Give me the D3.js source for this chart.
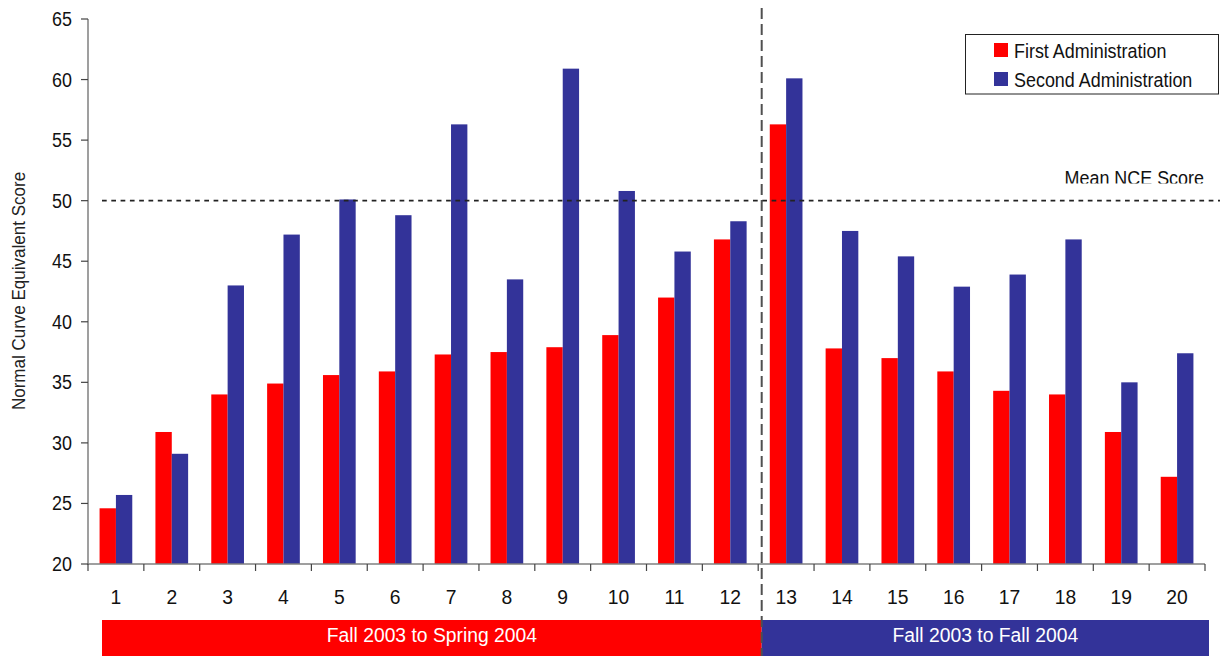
<!DOCTYPE html>
<html>
<head>
<meta charset="utf-8">
<script src="https://cdn.jsdelivr.net/npm/d3@7/dist/d3.min.js"></script>
<style>
  html, body { margin: 0; padding: 0; background: #fff; }
  svg { display: block; }
  text { font-family: "Liberation Sans", Arial, sans-serif; fill: #111; }
</style>
</head>
<body>
<svg id="chart" width="1220" height="656"></svg>
<script>
// Schools (1-20) and their NCE scores on the two test administrations
const categories = ["1","2","3","4","5","6","7","8","9","10","11","12","13","14","15","16","17","18","19","20"];
const firstAdmin  = [24.6, 30.9, 34.0, 34.9, 35.6, 35.9, 37.3, 37.5, 37.9, 38.9, 42.0, 46.8, 56.3, 37.8, 37.0, 35.9, 34.3, 34.0, 30.9, 27.2];
const secondAdmin = [25.7, 29.1, 43.0, 47.2, 50.1, 48.8, 56.3, 43.5, 60.9, 50.8, 45.8, 48.3, 60.1, 47.5, 45.4, 42.9, 43.9, 46.8, 35.0, 37.4];
const seriesNames = ["First Administration", "Second Administration"];
const seriesColors = ["#FF0000", "#333399"];
const yTicks = [20, 25, 30, 35, 40, 45, 50, 55, 60, 65];
const meanScore = 50;
const meanLabel = "Mean NCE Score";
const yTitle = "Normal Curve Equivalent Score";
// Testing-period groups spanning the category axis
const periods = [
  { label: "Fall 2003 to Spring 2004", from: "1",  to: "12", color: "#FF0000" },
  { label: "Fall 2003 to Fall 2004",   from: "13", to: "20", color: "#333399" }
];

const svg = d3.select("#chart");
const SX = 0.92; // horizontal squeeze for the condensed label face

function squeezedText(sel, x, y, str, size, anchor, rot) {
  return sel.append("text")
    .attr("transform", `translate(${x},${y})${rot ? ` rotate(${rot})` : ""} scale(${SX},1)`)
    .attr("text-anchor", anchor || "start")
    .style("font-size", size + "px")
    .text(str);
}

const x = d3.scaleBand().domain(categories).range([88, 1205]).padding(0);
const xSub = d3.scaleBand().domain([0, 1]).range([0, x.bandwidth()]).paddingInner(0).paddingOuter(0.708);
const y = d3.scaleLinear().domain([20, 65]).range([564, 19]);

// Bars
const rows = categories.map((c, i) => ({ c, vals: [firstAdmin[i], secondAdmin[i]] }));
const groups = svg.append("g").selectAll("g").data(rows).join("g")
  .attr("transform", d => `translate(${x(d.c)},0)`);
groups.selectAll("rect").data(d => d.vals.map((v, k) => ({ v, k }))).join("rect")
  .attr("x", d => xSub(d.k))
  .attr("width", xSub.bandwidth())
  .attr("y", d => y(d.v))
  .attr("height", d => y(20) - y(d.v))
  .attr("fill", d => seriesColors[d.k]);

// Y axis
const axisColor = "#7f7f7f";
svg.append("line").attr("x1", 88).attr("x2", 88).attr("y1", y(65)).attr("y2", y(20) + 1)
  .attr("stroke", axisColor).attr("stroke-width", 1.5);
yTicks.forEach(t => {
  svg.append("line").attr("x1", 81).attr("x2", 88).attr("y1", y(t)).attr("y2", y(t))
    .attr("stroke", "#444").attr("stroke-width", 1.2);
  squeezedText(svg, 72, y(t) + 7, String(t), 19.5, "end");
});

// X axis: ticks sit on category boundaries, labels under each category
svg.append("line").attr("x1", 88).attr("x2", 1205).attr("y1", y(20)).attr("y2", y(20))
  .attr("stroke", axisColor).attr("stroke-width", 1.5);
const bounds = categories.map(c => x(c)).concat([x.range()[1]]);
bounds.forEach(b => {
  svg.append("line").attr("x1", b).attr("x2", b).attr("y1", y(20)).attr("y2", y(20) + 7)
    .attr("stroke", "#444").attr("stroke-width", 1.2);
});
categories.forEach(c => {
  squeezedText(svg, x(c) + x.bandwidth() / 2, 604, c, 21, "middle");
});

// Period bands beneath the axis
const splitX = x(periods[1].from) + 3.5;
periods.forEach((p, i) => {
  const x0 = i === 0 ? x(p.from) + 14 : splitX;
  const x1 = i === 0 ? splitX : x(p.to) + x.bandwidth() + 4;
  svg.append("rect").attr("x", x0).attr("y", 620).attr("width", x1 - x0).attr("height", 36)
    .attr("fill", p.color);
  squeezedText(svg, (x0 + x1) / 2, 641.5, p.label, 21, "middle").style("fill", "#fff");
});

// Divider between the two testing periods
svg.append("line").attr("x1", splitX).attr("x2", splitX).attr("y1", 8).attr("y2", 656)
  .attr("stroke", "#505050").attr("stroke-width", 2).attr("stroke-dasharray", "11,5");

// Mean NCE reference line
svg.append("line").attr("x1", 102).attr("x2", 1220).attr("y1", y(meanScore)).attr("y2", y(meanScore))
  .attr("stroke", "#222").attr("stroke-width", 1.6).attr("stroke-dasharray", "4.7,4.6");
svg.append("clipPath").attr("id", "meanClip")
  .append("rect").attr("x", 1000).attr("y", 150).attr("width", 220).attr("height", 33.5);
squeezedText(svg.append("g").attr("clip-path", "url(#meanClip)"), 1204, 184.5, meanLabel, 19.5, "end");

// Legend
const lg = svg.append("g");
lg.append("rect").attr("x", 965.5).attr("y", 34.5).attr("width", 253).attr("height", 59.5)
  .attr("fill", "#fff").attr("stroke", "#222").attr("stroke-width", 1);
seriesNames.forEach((n, i) => {
  lg.append("rect").attr("x", 994).attr("y", 43 + i * 29).attr("width", 14).attr("height", 14)
    .attr("fill", seriesColors[i]);
  squeezedText(lg, 1014, 57.5 + i * 29, n, 19.5, "start");
});

// Y axis title
squeezedText(svg, 25, 291, yTitle, 18.5, "middle", -90).style("fill", "#222");
</script>
</body>
</html>
